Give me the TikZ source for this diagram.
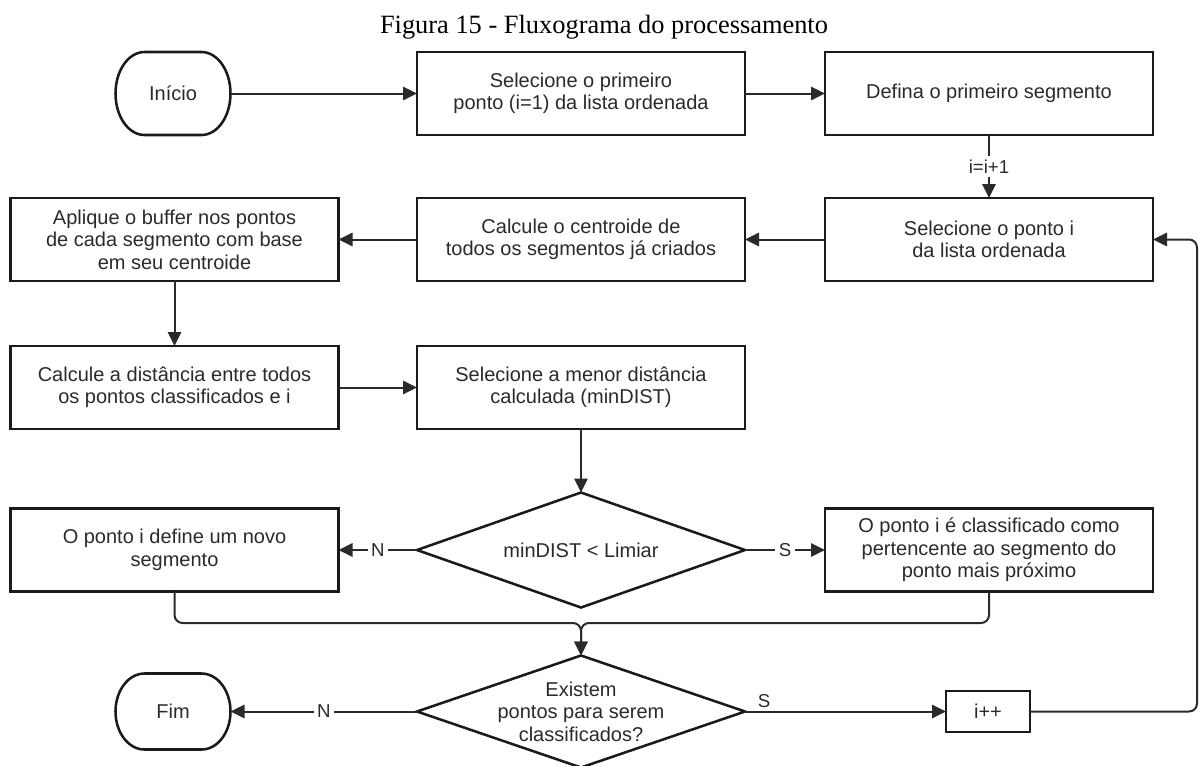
\documentclass[tikz,border=0pt]{standalone}
\usepackage{fontspec}
\setmainfont{Liberation Sans}
\newfontfamily\captionfont{Liberation Serif}
\usetikzlibrary{arrows.meta,shapes.geometric}
\definecolor{ink}{HTML}{2A2A2A}
\definecolor{edge}{HTML}{1A1A1A}

\begin{document}
\begin{tikzpicture}[x=0.75pt,y=-0.75pt,
  every node/.style={font=\fontsize{15}{16.9}\selectfont, text=ink},
  outline/.style={draw=edge, line width=1.9pt},
  box/.style={outline, minimum width=246pt, minimum height=62.25pt,
    align=center, inner sep=0pt, outer sep=0pt},
  smallbox/.style={outline, line width=2.2pt, minimum width=63pt, minimum height=30.75pt,
    inner sep=0pt, outer sep=0pt},
  term/.style={minimum width=86.25pt, inner sep=0pt, outer sep=0pt},
  dia/.style={outline, shape=diamond, minimum width=246pt, inner sep=0pt, outer sep=0pt},
  arr/.style={draw=ink, line width=1.5pt, -{Triangle[length=10.5pt,width=10pt]}},
  lbl/.style={fill=white, inner sep=2.5pt, font=\fontsize{14}{16}\selectfont}
]
\useasboundingbox (0,0) rectangle (1199,765);

% caption
\node[anchor=base, text=black, font=\captionfont\fontsize{19.8}{22}\selectfont]
  (title) at (604,33) {Figura 15 - Fluxograma do processamento};

% start / end terminals
\node[term, minimum height=62.25pt] (ini) at (173,93.5) {Início};
\node[term, minimum height=57pt] (fim) at (173,711.5) {Fim};
\foreach \t/\ry in {ini/31.125pt, fim/28.5pt}{
  \draw[outline] ([xshift=21.75pt]\t.north west) -- ([xshift=-21.75pt]\t.north east)
    arc[start angle=90, end angle=-90, x radius=21.75pt, y radius=\ry]
    -- ([xshift=21.75pt]\t.south west)
    arc[start angle=270, end angle=90, x radius=21.75pt, y radius=\ry] -- cycle;
}

% process boxes
\node[box] (b1) at (581,93.5) {Selecione o primeiro\\ponto (i=1) da lista ordenada};
\node[box] (b2) at (989,93.5) {Defina o primeiro segmento};
\node[box] (b3) at (989,239.5) {Selecione o ponto i\\da lista ordenada};
\node[box] (b4) at (581,239.5) {Calcule o centroide de\\todos os segmentos já criados};
\node[box] (b5) at (174.5,239.5) {Aplique o buffer nos pontos\\de cada segmento com base\\em seu centroide};
\node[box] (b6) at (174.5,387.5) {Calcule a distância entre todos\\os pontos classificados e i};
\node[box] (b7) at (581,387.5) {Selecione a menor distância\\calculada (minDIST)};
\node[box] (b8) at (174.5,550) {O ponto i define um novo\\segmento};
\node[box] (b9) at (989,550) {O ponto i é classificado como\\pertencente ao segmento do\\ponto mais próximo};
\node[smallbox] (inc) at (988,711.5) {i++};

% decisions
\node[dia, minimum height=86.25pt] (d1) at (581,550) {};
\node[align=center] (d1t) at (d1) {minDIST < Limiar};
\node[dia, minimum height=84pt] (d2) at (581,711.5) {};
\node[align=center] (d2t) at (d2) {Existem\\pontos para serem\\classificados?};

% connectors
\draw[arr] (ini.east) -- (b1.west);
\draw[arr] (b1.east) -- (b2.west);
\draw[arr] (b2.south) -- node[lbl] (lblinc) {i=i+1} (b3.north);
\draw[arr] (b3.west) -- (b4.east);
\draw[arr] (b4.west) -- (b5.east);
\draw[arr] (b5.south) -- (b6.north);
\draw[arr] (b6.east) -- (b7.west);
\draw[arr] (b7.south) -- (d1.north);
\draw[arr] (d1.west) -- node[lbl] (ln1) {N} (b8.east);
\draw[arr] (d1.east) -- node[lbl] (ls1) {S} (b9.west);

\coordinate (mj) at (581,623);
\draw[arr, rounded corners=6pt] (b8.south) |- (mj) -- (d2.north);
\draw[arr, rounded corners=6pt] (b9.south) |- (mj) -- (d2.north);

\draw[arr] (d2.west) -- node[lbl] (ln2) {N} (fim.east);
\draw[arr] (d2.east) -- node[pos=0.095, above=1pt, inner sep=1pt, font=\fontsize{14}{16}\selectfont] (ls2) {S} (inc.west);

\coordinate (rc) at (1197,239.5);
\draw[arr, rounded corners=6pt] (inc.east) -| (rc) -- (b3.east);
\end{tikzpicture}
\end{document}
